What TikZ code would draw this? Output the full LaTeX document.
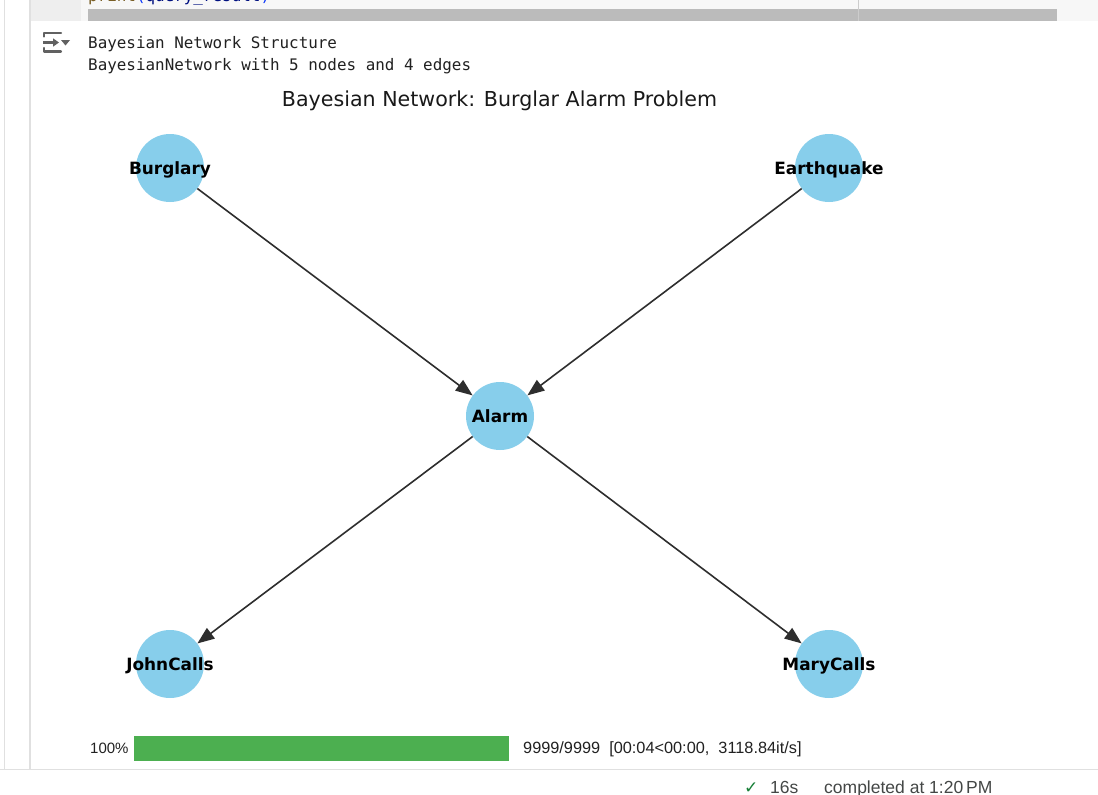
\documentclass[tikz,border=0pt]{standalone}
\usepackage{fontspec}
\setmainfont{DejaVu Sans}
\newfontfamily\monofont{DejaVu Sans Mono}
\newfontfamily\uifont{Liberation Sans}
\usetikzlibrary{arrows.meta}
\definecolor{nodeBlue}{HTML}{87CEEB}
\definecolor{barGreen}{HTML}{4CAF50}
\definecolor{checkGreen}{HTML}{188038}
\definecolor{cellGray}{HTML}{F7F7F7}
\definecolor{gutterGray}{HTML}{EEEEEE}
\definecolor{scrollGray}{HTML}{BBBBBB}
\definecolor{ruleGray}{HTML}{E0E0E0}
\definecolor{iconGray}{HTML}{616161}
\definecolor{codeFn}{HTML}{795E26}
\definecolor{codeVar}{HTML}{001080}
\definecolor{codeParen}{HTML}{0431FA}
\definecolor{inkGray}{HTML}{212121}
\definecolor{statusGray}{HTML}{444746}

\begin{document}
\begin{tikzpicture}[
  x=1pt, y=-1pt,
  bnnode/.style={circle, fill=nodeBlue, minimum size=68pt, inner sep=0pt},
  bnlabel/.style={font=\fontsize{16.9}{18}\selectfont\bfseries, text=black, text height=12.3pt, text depth=0pt, inner sep=0pt},
  edge/.style={-{Triangle[length=17pt,width=13pt]}, line width=1.6pt, draw=black!82},
  monotext/.style={font=\monofont\fontsize{15.9}{18}\selectfont, anchor=base west, inner sep=0pt, text=inkGray},
  uitext/.style={font=\uifont\fontsize{15}{18}\selectfont, anchor=base west, inner sep=0pt, text=inkGray},
  statustext/.style={font=\uifont\fontsize{17.5}{20}\selectfont, anchor=base west, inner sep=0pt, text=statusGray},
]
\useasboundingbox[fill=white] (0,0) rectangle (1098,795);

% notebook chrome
\fill[cellGray] (31,0) rectangle (1098,21);
\fill[gutterGray] (31,0) rectangle (81,21);
\fill[scrollGray] (88,9) rectangle (1057,21);
\draw[line width=1pt, draw=black!20] (858,0) -- (858,21);
\draw[line width=1pt, draw=ruleGray] (4.5,0) -- (4.5,769);
\draw[line width=1.5pt, draw=ruleGray] (30,0) -- (30,769);
\draw[line width=1pt, draw=ruleGray] (0,769.5) -- (1098,769.5);
\node[monotext] (code) at (88,1.5) {\textcolor{codeFn}{print}\textcolor{codeParen}{(}\textcolor{codeVar}{query\_result}\textcolor{codeParen}{)}};

% output icon
\draw[iconGray, line width=2.2pt, line cap=round, line join=round] (44,36.5) -- (44,33) -- (61,33);
\draw[iconGray, line width=2.2pt, line cap=round, line join=round] (44,48) -- (44,51.5) -- (61,51.5);
\draw[iconGray, line width=2.2pt, -{Triangle[length=6pt,width=8pt]}] (43,42.5) -- (59,42.5);
\fill[iconGray] (61,40) -- (70,40) -- (65.5,45.5) -- cycle;

\node[monotext] (header) at (88,48) {Bayesian Network Structure};
\node[monotext] (summary) at (88,70) {BayesianNetwork with 5 nodes and 4 edges};

% plot
\node[font=\fontsize{20.6}{24}\selectfont, anchor=base, inner sep=0pt, text=black!90] (title) at (499.5,106) {Bayesian Network: Burglar Alarm Problem};

\node[bnnode] (burglary) at (170,168) {};
\node[bnnode] (earthquake) at (829,168) {};
\node[bnnode] (alarm) at (500,416) {};
\node[bnnode] (johncalls) at (170,664) {};
\node[bnnode] (marycalls) at (829,664) {};

\node[bnlabel] (burglaryText) at (burglary) {Burglary};
\node[bnlabel] (earthquakeText) at (earthquake) {Earthquake};
\node[bnlabel] (alarmText) at (alarm) {Alarm};
\node[bnlabel] (johncallsText) at (johncalls) {JohnCalls};
\node[bnlabel] (marycallsText) at (marycalls) {MaryCalls};

\draw[edge] (burglary) -- (alarm);
\draw[edge] (earthquake) -- (alarm);
\draw[edge] (alarm) -- (johncalls);
\draw[edge] (alarm) -- (marycalls);

% progress bar
\node[uitext] (percent) at (90,753) {100\%};
\fill[barGreen] (134,736) rectangle (509,761);
\node[uitext, font=\uifont\fontsize{16.3}{18}\selectfont] (progress) at (523,753) {9999/9999\ \ [00:04<00:00,\ \ 3118.84it/s]};

% status line
\node[font=\fontsize{17}{20}\selectfont, anchor=base west, inner sep=0pt, text=checkGreen] (check) at (744,793) {✓};
\node[statustext] (elapsed) at (770,793) {16s};
\node[statustext] (completed) at (824,793) {completed at 1:20\,PM};
\end{tikzpicture}
\end{document}
